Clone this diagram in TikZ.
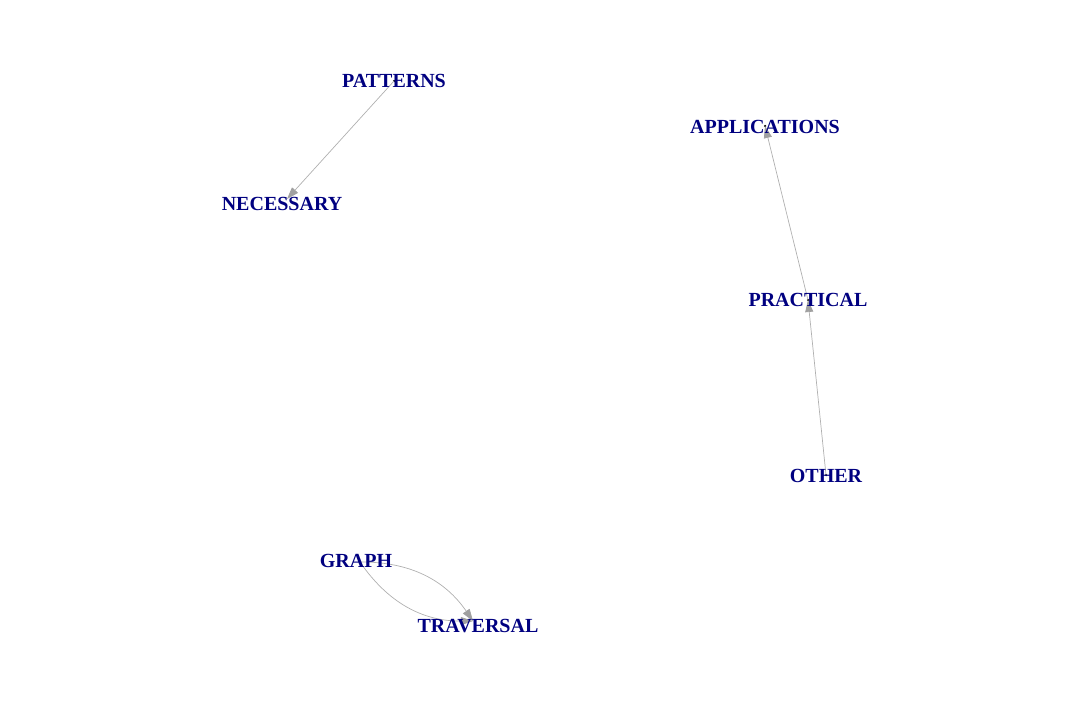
\documentclass[tikz,border=0pt]{standalone}
\usepackage{fontspec}
\setmainfont{Liberation Serif}
\usepackage{xcolor}
\definecolor{wordNavy}{HTML}{000080}
\definecolor{edgeGray}{HTML}{B0B0B0}
\definecolor{tipGray}{HTML}{A0A0A0}
\usetikzlibrary{arrows.meta}
\tikzset{%
  wordNode/.style={%
    inner sep=0pt,
    text=wordNavy,
    font=\fontsize{20}{24}\selectfont\bfseries
  },
  edgeLine/.style={%
    -{Triangle[length=12pt,width=8pt,fill=tipGray,color=tipGray]},
    draw=edgeGray,
    line width=0.7pt
  },
  centerDot/.style={%
    circle,
    fill=black,
    inner sep=0pt,
    minimum size=2.5pt
  }
}

\begin{document}
\begin{tikzpicture}[x=1pt,y=-1pt]
  \useasboundingbox (0,0) rectangle (1080,720);

  % edges first, words on top
  \node[centerDot] (cPatterns) at (394,81) {};
  \coordinate (cNecessary) at (287,199);
  \node[centerDot] (cApplications) at (765,126) {};
  \node[centerDot] (cPractical) at (808,300) {};
  \node[centerDot] (cOther) at (826,475) {};
  \coordinate (cGraph) at (360,562);
  \coordinate (cTraversal) at (473,621);

  \draw[edgeLine] (cPatterns.center) -- (cNecessary);
  \draw[edgeLine] (cPractical.center) -- (cApplications.center);
  \draw[edgeLine] (cOther.center) -- (cPractical.center);
  \draw[edgeLine] (cGraph) to[bend right=28] (cTraversal);
  \draw[edgeLine] (cGraph) to[bend left=28] (cTraversal);

  \node[wordNode] (patterns) at (394,81) {PATTERNS};
  \node[wordNode] (necessary) at (282,204) {NECESSARY};
  \node[wordNode] (applications) at (765,127) {APPLICATIONS};
  \node[wordNode] (practical) at (808,300) {PRACTICAL};
  \node[wordNode] (other) at (826,476) {OTHER};
  \node[wordNode] (graph) at (356,561) {GRAPH};
  \node[wordNode] (traversal) at (478,626) {TRAVERSAL};
\end{tikzpicture}
\end{document}
